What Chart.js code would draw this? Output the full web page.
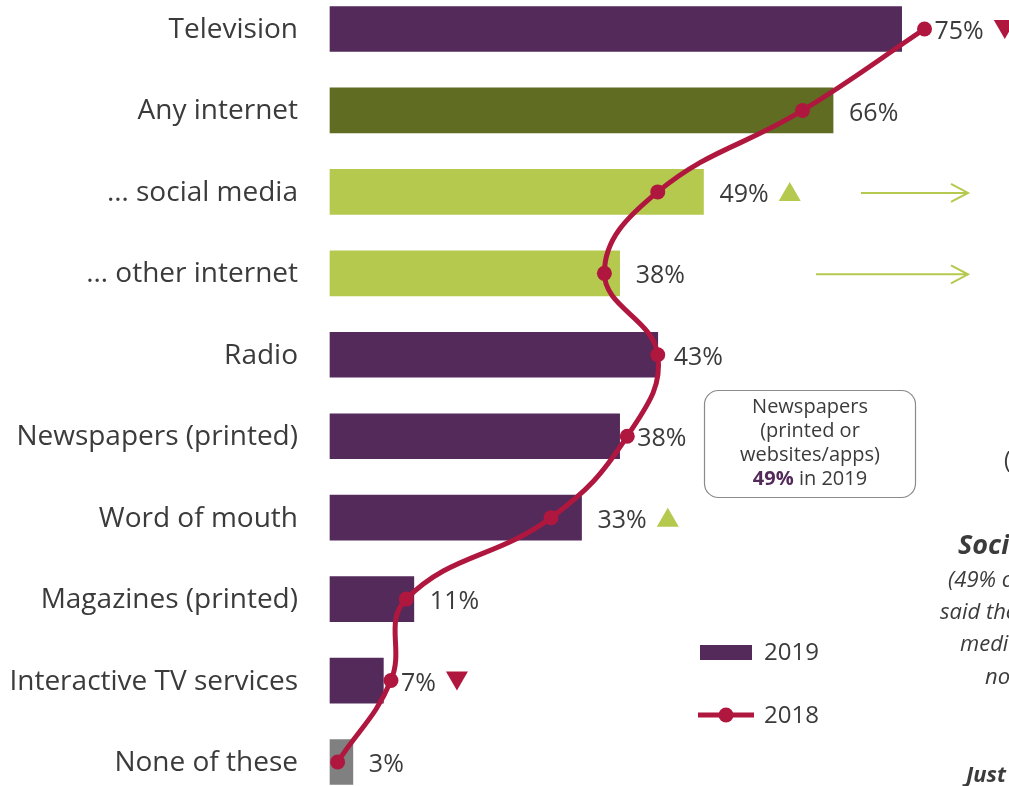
<!DOCTYPE html>
<html>
<head>
<meta charset="utf-8">
<script src="https://cdn.jsdelivr.net/npm/chart.js@4/dist/chart.umd.min.js"></script>
<style>
  html, body { margin: 0; padding: 0; background: #ffffff; }
  #wrap { width: 1009px; height: 786px; position: relative; }
</style>
</head>
<body>
<div id="wrap"><canvas id="c" width="1009" height="786"></canvas></div>
<script>
const categories = ['Television', 'Any internet', '\u2026 social media', '\u2026 other internet', 'Radio',
  'Newspapers (printed)', 'Word of mouth', 'Magazines (printed)', 'Interactive TV services', 'None of these'];
const values2019 = [75, 66, 49, 38, 43, 38, 33, 11, 7, 3];
const values2018 = [78, 62, 43, 36, 43, 39, 29, 10, 8, 1];
const changeMarks = ['down', '', 'up', '', '', '', 'up', '', 'down', ''];
const arrowRows = [2, 3];
const barColors = ['#532A5A', '#606C22', '#B5C94E', '#B5C94E', '#532A5A', '#532A5A', '#532A5A', '#532A5A', '#532A5A', '#808080'];
const seriesNames = ['2019', '2018'];

const PURPLE = '#532A5A', RED = '#B0173F', GREEN = '#B5C94E', TEXT = '#3B3B3B';
const FONT = '"Open Sans", "Noto Sans", sans-serif';

function tri(ctx, x, y, dir, color) {
  ctx.save();
  ctx.fillStyle = color;
  ctx.beginPath();
  if (dir === 'up') {
    ctx.moveTo(x, y + 9); ctx.lineTo(x + 22, y + 9); ctx.lineTo(x + 11, y - 10);
  } else {
    ctx.moveTo(x, y - 9); ctx.lineTo(x + 22, y - 9); ctx.lineTo(x + 11, y + 10);
  }
  ctx.closePath(); ctx.fill(); ctx.restore();
}

const overlay = {
  id: 'overlay',
  afterDraw(chart) {
    const ctx = chart.ctx;
    const barMeta = chart.getDatasetMeta(0);
    const lineMeta = chart.getDatasetMeta(1);
    const yS = chart.scales.y;
    ctx.save();
    // category labels
    ctx.fillStyle = TEXT;
    ctx.font = '28px ' + FONT;
    ctx.textAlign = 'right';
    ctx.textBaseline = 'middle';
    categories.forEach((c, i) => {
      ctx.fillText(c, 298, yS.getPixelForValue(i) + 1);
    });
    // value labels + markers
    ctx.font = '25px ' + FONT;
    ctx.textAlign = 'left';
    values2019.forEach((v, i) => {
      const bx = barMeta.data[i].x;
      const px = lineMeta.data[i].x;
      const y = barMeta.data[i].y;
      const lx = Math.max(bx + 16, px + 10);
      const txt = v + '%';
      ctx.fillStyle = TEXT;
      ctx.fillText(txt, lx, y + 3);
      const w = ctx.measureText(txt).width;
      if (changeMarks[i] === 'up') tri(ctx, lx + w + 10, y, 'up', GREEN);
      if (changeMarks[i] === 'down') tri(ctx, lx + w + 10, y, 'down', RED);
    });
    // arrows
    ctx.strokeStyle = GREEN;
    ctx.lineWidth = 2;
    arrowRows.forEach((i, k) => {
      const y = barMeta.data[i].y + 1;
      const x0 = k === 0 ? 861 : 816, x1 = 968;
      ctx.beginPath();
      ctx.moveTo(x0, y); ctx.lineTo(x1, y);
      ctx.moveTo(x1 - 17, y - 9); ctx.lineTo(x1, y); ctx.lineTo(x1 - 17, y + 9);
      ctx.stroke();
    });
    // annotation box
    ctx.strokeStyle = '#8A8A8A';
    ctx.lineWidth = 1.2;
    ctx.beginPath();
    ctx.roundRect(704.5, 390.5, 211, 107, 14);
    ctx.stroke();
    ctx.fillStyle = TEXT;
    ctx.font = '20px ' + FONT;
    ctx.textAlign = 'center';
    ctx.fillText('Newspapers', 810, 407);
    ctx.fillText('(printed or', 810, 431);
    ctx.fillText('websites/apps)', 810, 455);
    ctx.font = 'bold 20px ' + FONT;
    const bw = ctx.measureText('49%').width;
    ctx.font = '20px ' + FONT;
    const rw = ctx.measureText(' in 2019').width;
    const sx = 810 - (bw + rw) / 2;
    ctx.textAlign = 'left';
    ctx.font = 'bold 20px ' + FONT;
    ctx.fillStyle = PURPLE;
    ctx.fillText('49%', sx, 479);
    ctx.font = '20px ' + FONT;
    ctx.fillStyle = TEXT;
    ctx.fillText(' in 2019', sx + bw, 479);
    // legend
    ctx.fillStyle = barColors[0];
    ctx.fillRect(700, 645, 52, 15);
    ctx.strokeStyle = RED; ctx.lineWidth = 5;
    ctx.beginPath(); ctx.moveTo(698, 715); ctx.lineTo(754, 715); ctx.stroke();
    ctx.fillStyle = RED;
    ctx.beginPath(); ctx.arc(726, 715, 7.5, 0, Math.PI * 2); ctx.fill();
    ctx.fillStyle = TEXT;
    ctx.font = '24px ' + FONT;
    ctx.fillText(seriesNames[0], 764, 653);
    ctx.fillText(seriesNames[1], 764, 716);
    // right side panel text (cut off)
    ctx.font = '23px ' + FONT;
    ctx.fillText('(', 1004, 461);
    ctx.font = 'italic bold 27px ' + FONT;
    ctx.fillText('Social media', 958, 546);
    ctx.font = 'italic 22px ' + FONT;
    ctx.fillText('(49% of', 948, 581);
    ctx.fillText('said they', 940, 613);
    ctx.fillText('media', 960, 645);
    ctx.fillText('not', 985, 678);
    ctx.font = 'italic bold 22px ' + FONT;
    ctx.fillText('Just', 966, 776);
    ctx.restore();
  }
};

new Chart(document.getElementById('c'), {
  type: 'bar',
  data: {
    labels: categories,
    datasets: [
      {
        label: seriesNames[0],
        data: values2019,
        backgroundColor: barColors,
        barThickness: 45,
        clip: false,
        order: 2
      },
      {
        type: 'line',
        label: seriesNames[1],
        data: values2018,
        indexAxis: 'y',
        borderColor: RED,
        backgroundColor: RED,
        borderWidth: 5,
        pointRadius: 7.5,
        pointBackgroundColor: RED,
        pointBorderWidth: 0,
        tension: 0.42,
        clip: false,
        order: 1
      }
    ]
  },
  options: {
    indexAxis: 'y',
    responsive: false,
    animation: false,
    layout: { padding: { left: 330, right: 0, top: 29, bottom: 24 } },
    plugins: { legend: { display: false }, tooltip: { enabled: false } },
    scales: {
      x: { min: 0, max: 88.1, display: false },
      y: { type: 'category', offset: false, display: false, grid: { display: false } }
    }
  },
  plugins: [overlay]
});
</script>
</body>
</html>
